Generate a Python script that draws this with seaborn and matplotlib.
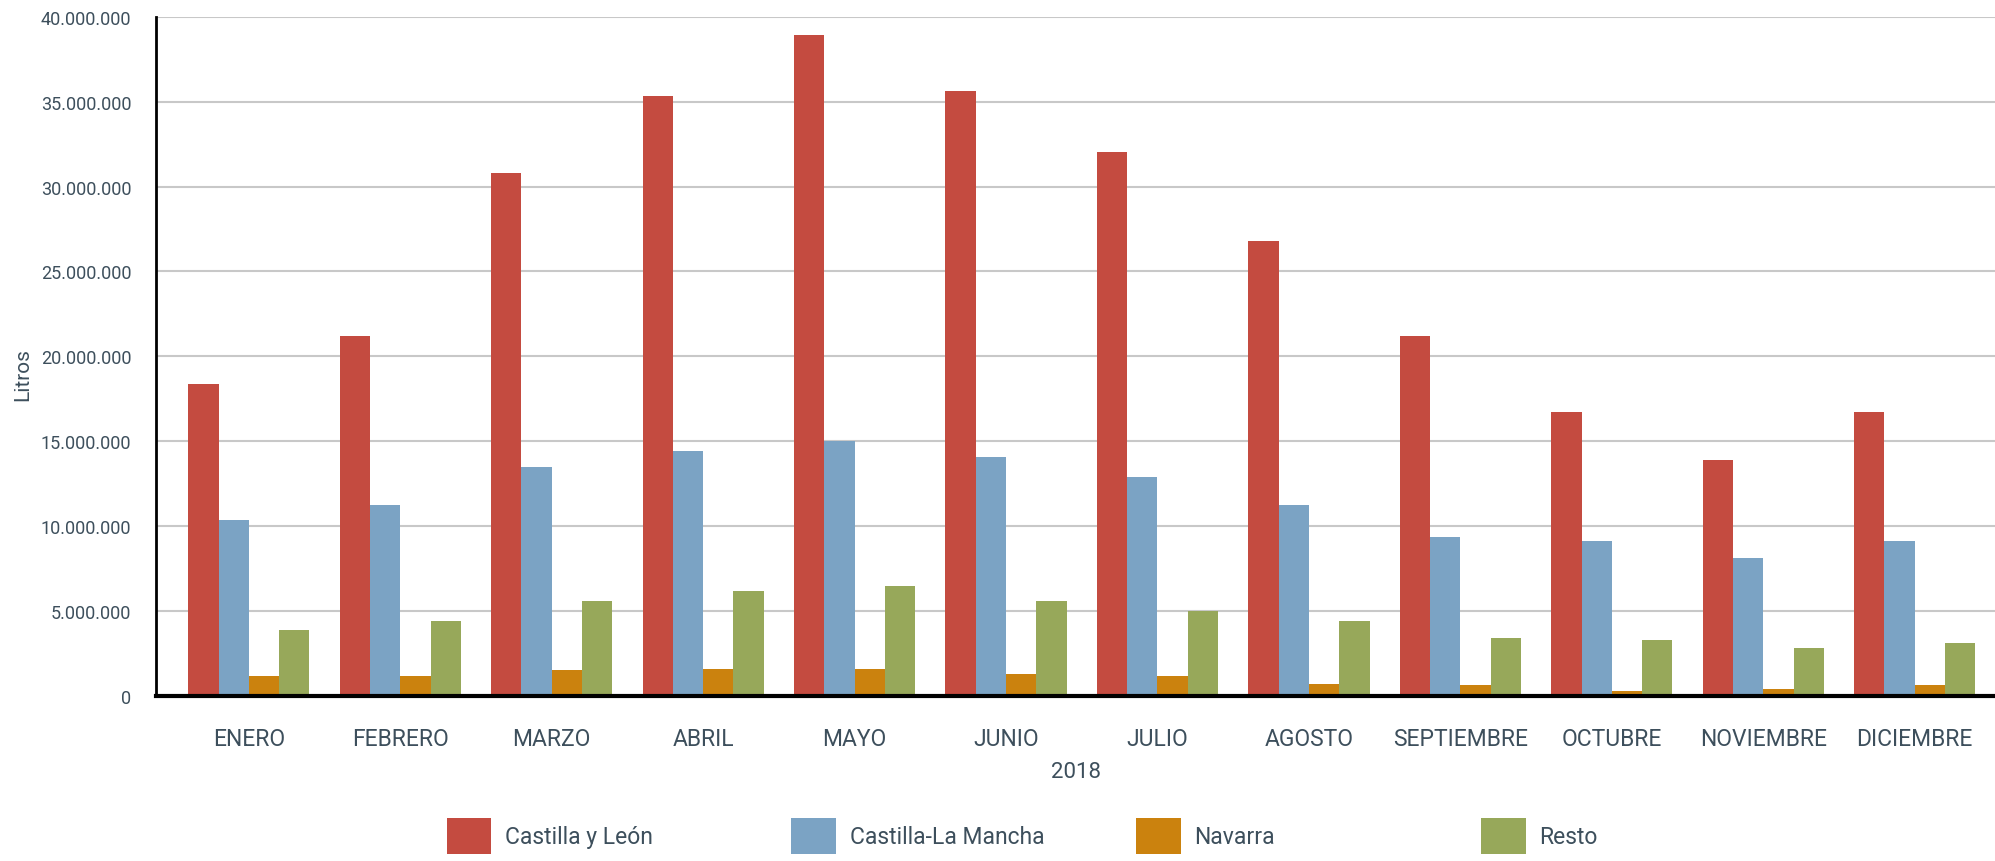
import matplotlib
matplotlib.use("Agg")
import matplotlib.pyplot as plt
from matplotlib.ticker import FuncFormatter
import seaborn as sns
import pandas as pd

meses = ["ENERO", "FEBRERO", "MARZO", "ABRIL", "MAYO", "JUNIO", "JULIO",
         "AGOSTO", "SEPTIEMBRE", "OCTUBRE", "NOVIEMBRE", "DICIEMBRE"]
series = ["Castilla y León", "Castilla-La Mancha", "Navarra", "Resto"]
castilla_leon = [18.4e6, 21.2e6, 30.8e6, 35.35e6, 38.95e6, 35.6e6, 32.05e6,
                 26.8e6, 21.2e6, 16.7e6, 13.9e6, 16.7e6]
castilla_mancha = [10.35e6, 11.25e6, 13.5e6, 14.4e6, 15.0e6, 14.1e6, 12.9e6,
                   11.25e6, 9.35e6, 9.1e6, 8.1e6, 9.1e6]
navarra = [1.16e6, 1.18e6, 1.55e6, 1.6e6, 1.6e6, 1.3e6, 1.2e6,
           0.7e6, 0.63e6, 0.28e6, 0.4e6, 0.63e6]
resto = [3.86e6, 4.4e6, 5.57e6, 6.2e6, 6.45e6, 5.6e6, 5.0e6,
         4.4e6, 3.4e6, 3.3e6, 2.8e6, 3.1e6]
colores = ["#c44b40", "#7ba3c4", "#cb820e", "#97a85a"]

valores = [castilla_leon, castilla_mancha, navarra, resto]
rows = []
for s, vals in zip(series, valores):
    for m, v in zip(meses, vals):
        rows.append({"mes": m, "serie": s, "litros": v})
df = pd.DataFrame(rows)

sns.set_theme(style="white")
plt.rcParams["font.family"] = ["Roboto", "DejaVu Sans"]
text_color = "#3d4f5c"

fig = plt.figure(figsize=(19.95, 8.62), dpi=100)
ax = fig.add_axes([0.0784, 0.1914, 0.9216, 0.788])

sns.barplot(data=df, x="mes", y="litros", hue="serie", order=meses,
            hue_order=series, palette=colores, saturation=1, width=0.8,
            linewidth=0, ax=ax, errorbar=None)

ax.set_ylim(0, 40e6)
ax.set_xlim(-0.61, 11.53)
ax.set_yticks([i * 5e6 for i in range(9)])
ax.yaxis.set_major_formatter(FuncFormatter(lambda v, p: f"{int(round(v)):,}".replace(",", ".")))
ax.grid(axis="y", color="#c8c8c8", linewidth=1.5)
ax.set_axisbelow(True)
for sp in ["top", "right"]:
    ax.spines[sp].set_visible(False)
ax.spines["left"].set_color("black")
ax.spines["left"].set_linewidth(2)
ax.spines["bottom"].set_color("black")
ax.spines["bottom"].set_linewidth(3)
ax.tick_params(axis="both", length=0)
ax.tick_params(axis="y", pad=18, labelsize=13, labelcolor=text_color)
ax.tick_params(axis="x", pad=22, labelsize=16.5, labelcolor=text_color)
ax.set_xlabel("2018", fontsize=16, color=text_color, labelpad=8)
ax.set_ylabel("Litros", fontsize=15, color=text_color)
ax.yaxis.set_label_coords(-0.0726, 0.474)
ax.yaxis.label.set_verticalalignment("center")

handles, labels = ax.get_legend_handles_labels()
ax.get_legend().remove()
xs = [446.6 / 1995, 791.4 / 1995, 1136.0 / 1995, 1481.0 / 1995]
for h, l, x in zip(handles, labels, xs):
    fig.legend([h], [l], loc="center left", bbox_to_anchor=(x, 0.029),
               frameon=False, fontsize=16.5, handlelength=1.95, handleheight=2.1,
               handletextpad=0.6, borderpad=0, borderaxespad=0,
               labelcolor=text_color)

fig.savefig("out.png", dpi=100)
